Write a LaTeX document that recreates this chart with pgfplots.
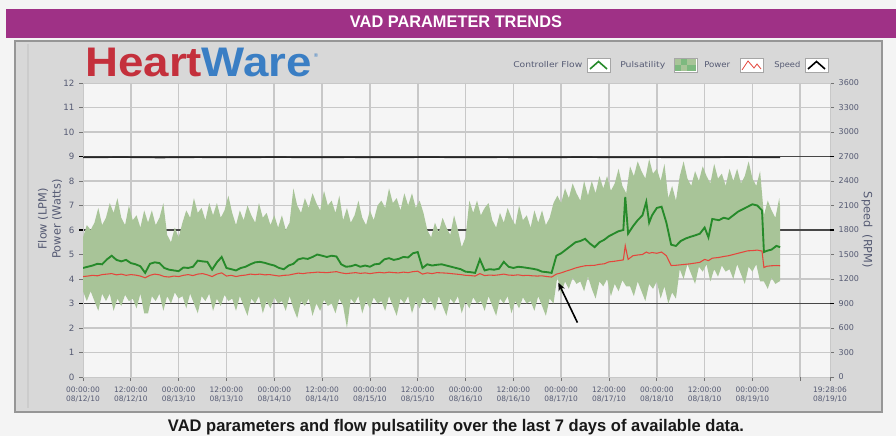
\documentclass[border=0pt]{standalone}
\usepackage{fontspec}
\setmainfont{DejaVu Sans}
\newfontfamily\libsans{Liberation Sans}
\usepackage{graphicx}
\usepackage{pgfplots}
\pgfplotsset{compat=1.18}
\usetikzlibrary{arrows.meta}
\usepackage{pgfplotstable}

\definecolor{purplebar}{RGB}{159,49,134}
\definecolor{outerbg}{RGB}{244,244,244}
\definecolor{panel}{RGB}{216,216,216}
\definecolor{panelrim}{RGB}{150,150,150}
\definecolor{plotbg}{RGB}{245,245,245}
\definecolor{gridc}{RGB}{200,200,200}
\definecolor{ticktext}{RGB}{85,90,115}
\definecolor{band}{RGB}{168,196,152}
\definecolor{flowgreen}{RGB}{38,138,42}
\definecolor{powerred}{RGB}{228,70,60}
\definecolor{heartred}{RGB}{196,48,60}
\definecolor{wareblue}{RGB}{58,126,196}

% controller flow and power (LPM / Watts)
\pgfplotstableread{
t flow power
0.00 4.45 4.10
0.05 4.50 4.12
0.10 4.55 4.15
0.15 4.62 4.13
0.20 4.60 4.18
0.25 4.80 4.20
0.30 4.95 4.22
0.35 4.78 4.17
0.40 4.72 4.20
0.45 4.78 4.15
0.50 4.65 4.18
0.55 4.60 4.16
0.60 4.52 4.12
0.65 4.25 4.05
0.70 4.62 4.15
0.75 4.68 4.20
0.80 4.65 4.17
0.85 4.45 4.10
0.90 4.38 4.08
0.95 4.35 4.12
1.00 4.32 4.10
1.05 4.47 4.15
1.10 4.45 4.18
1.15 4.50 4.14
1.20 4.75 4.20
1.25 4.72 4.22
1.30 4.70 4.17
1.35 4.38 4.10
1.40 4.68 4.20
1.45 4.90 4.25
1.50 4.45 4.12
1.55 4.40 4.15
1.60 4.35 4.10
1.65 4.45 4.14
1.70 4.50 4.16
1.75 4.60 4.20
1.80 4.68 4.18
1.85 4.70 4.20
1.90 4.66 4.17
1.95 4.60 4.18
2.00 4.55 4.15
2.05 4.45 4.12
2.10 4.40 4.15
2.15 4.55 4.16
2.20 4.62 4.20
2.25 4.80 4.24
2.30 4.85 4.22
2.35 4.82 4.25
2.40 4.90 4.26
2.45 5.00 4.28
2.50 4.95 4.27
2.55 4.90 4.26
2.60 4.95 4.28
2.65 4.92 4.30
2.70 4.60 4.25
2.75 4.50 4.22
2.80 4.52 4.24
2.85 4.58 4.26
2.90 4.50 4.23
2.95 4.55 4.25
3.00 4.50 4.22
3.05 4.60 4.25
3.10 4.62 4.27
3.15 4.80 4.25
3.20 4.85 4.28
3.25 4.78 4.26
3.30 4.82 4.25
3.35 4.90 4.28
3.40 4.88 4.26
3.45 5.05 4.30
3.50 5.10 4.32
3.55 4.45 4.20
3.60 4.60 4.25
3.65 4.55 4.22
3.70 4.58 4.26
3.75 4.60 4.25
3.80 4.55 4.24
3.85 4.50 4.22
3.90 4.45 4.20
3.95 4.40 4.18
4.00 4.30 4.15
4.05 4.28 4.14
4.10 4.25 4.12
4.15 4.80 4.22
4.20 4.35 4.14
4.25 4.40 4.16
4.30 4.38 4.15
4.35 4.42 4.17
4.40 4.70 4.20
4.45 4.50 4.16
4.50 4.45 4.15
4.55 4.50 4.17
4.60 4.48 4.14
4.65 4.45 4.15
4.70 4.42 4.13
4.75 4.38 4.12
4.80 4.30 4.13
4.85 4.28 4.10
4.90 4.25 4.08
4.95 4.95 4.20
5.00 5.05 4.25
5.05 5.20 4.32
5.10 5.35 4.38
5.15 5.50 4.45
5.20 5.55 4.50
5.25 5.64 4.54
5.30 5.45 4.55
5.35 5.30 4.56
5.40 5.50 4.60
5.45 5.60 4.62
5.50 5.75 4.70
5.55 5.85 4.72
5.60 5.95 4.75
5.65 6.00 4.78
5.67 7.35 5.36
5.70 5.85 4.80
5.75 6.15 4.95
5.80 6.40 4.98
5.85 6.60 5.00
5.89 7.15 5.10
5.92 6.30 5.05
5.95 6.60 5.08
6.00 6.90 5.05
6.05 6.95 5.10
6.10 6.30 4.95
6.15 5.40 4.55
6.20 5.35 4.56
6.25 5.55 4.58
6.30 5.65 4.60
6.35 5.72 4.62
6.40 5.78 4.65
6.45 5.85 4.68
6.50 6.10 4.80
6.54 5.70 4.75
6.58 6.45 4.85
6.65 6.40 4.88
6.70 6.50 4.92
6.75 6.45 4.95
6.80 6.60 5.00
6.85 6.75 5.05
6.90 6.85 5.10
6.95 6.95 5.15
7.00 7.05 5.16
7.05 7.00 5.18
7.10 6.80 5.14
7.12 5.10 4.47
7.15 5.15 4.52
7.20 5.20 4.54
7.25 5.35 4.55
7.29 5.30 4.54
}\flowdata

% pulsatility envelope (max / min flow)
\pgfplotstableread{
t up lo
0.00 5.7 3.5
0.04 6.2 3.1
0.08 6.0 3.5
0.12 6.3 3.1
0.16 6.9 2.7
0.20 6.2 3.4
0.24 6.5 3.1
0.28 7.1 3.4
0.32 6.7 2.7
0.36 7.3 3.2
0.40 6.5 2.9
0.44 6.2 3.35
0.48 7.0 3.1
0.52 6.4 3.2
0.56 6.6 2.8
0.60 6.1 3.4
0.64 6.8 2.6
0.68 6.3 2.6
0.72 6.8 3.3
0.76 6.2 3.1
0.80 6.5 3.4
0.84 7.1 2.7
0.88 5.8 3.3
0.92 5.5 3.0
0.96 6.1 3.45
1.00 5.7 3.2
1.04 6.3 3.3
1.08 6.8 2.8
1.12 6.5 3.4
1.16 7.3 3.0
1.20 6.7 2.6
1.24 6.9 3.3
1.28 6.4 3.1
1.32 7.1 3.4
1.36 6.6 2.7
1.40 7.1 3.2
1.44 6.5 2.9
1.48 6.8 3.35
1.52 7.4 3.1
1.56 6.7 3.2
1.60 6.2 2.7
1.64 6.8 3.3
1.68 6.4 2.9
1.72 7.0 2.5
1.76 6.6 3.2
1.80 6.3 3.0
1.84 7.1 3.3
1.88 6.5 2.6
1.92 6.7 3.1
1.96 6.2 2.8
2.00 6.6 3.25
2.04 6.1 3.0
2.08 6.6 3.1
2.12 6.0 2.7
2.16 6.3 3.3
2.20 7.7 2.8
2.24 7.0 2.4
2.28 6.7 3.1
2.32 7.3 2.9
2.36 6.9 3.2
2.40 7.5 2.5
2.44 7.1 3.0
2.48 6.8 2.7
2.52 7.6 3.15
2.56 7.0 2.9
2.60 7.2 3.0
2.64 6.7 2.6
2.68 7.4 3.2
2.72 6.4 2.9
2.76 6.9 2.0
2.80 6.3 3.2
2.84 6.6 3.0
2.88 7.2 3.3
2.92 6.5 2.6
2.96 6.2 3.1
3.00 6.8 2.8
3.04 6.4 3.25
3.08 7.0 3.0
3.12 7.2 3.1
3.16 6.9 2.7
3.20 7.7 3.3
3.24 7.1 2.9
3.28 7.3 2.5
3.32 6.8 3.2
3.36 7.5 3.0
3.40 7.0 3.3
3.44 7.5 2.6
3.48 6.9 3.1
3.52 7.2 2.8
3.56 6.7 3.25
3.60 6.0 3.0
3.64 5.7 3.1
3.68 6.3 2.7
3.72 5.9 3.3
3.76 6.5 2.9
3.80 6.1 2.5
3.84 5.8 3.2
3.88 6.6 3.0
3.92 6.0 3.3
3.96 5.3 2.6
4.00 5.7 3.1
4.04 7.2 2.8
4.08 6.7 3.25
4.12 7.2 3.0
4.16 6.6 3.1
4.20 6.9 2.7
4.24 7.1 3.3
4.28 6.4 2.9
4.32 6.1 2.5
4.36 6.7 3.2
4.40 6.3 3.0
4.44 6.9 3.3
4.48 6.5 2.6
4.52 6.2 3.1
4.56 7.0 2.8
4.60 6.4 3.25
4.64 6.6 3.0
4.68 6.1 3.1
4.72 6.8 2.7
4.76 6.3 3.3
4.80 6.8 2.9
4.84 6.2 2.5
4.88 6.5 3.2
4.92 7.1 3.0
4.96 7.4 4.1
5.00 7.1 3.4
5.04 7.7 3.9
5.08 7.3 3.6
5.12 7.9 4.05
5.16 7.5 3.8
5.20 7.2 3.9
5.24 8.0 3.5
5.28 7.4 4.1
5.32 8.0 3.6
5.36 7.5 3.2
5.40 8.2 3.9
5.44 7.7 3.7
5.48 8.2 4.0
5.52 7.6 3.3
5.56 7.9 3.8
5.60 8.5 3.5
5.64 7.8 3.95
5.68 7.5 3.7
5.72 8.6 3.7
5.76 8.2 3.3
5.80 8.8 3.9
5.84 8.4 3.5
5.88 8.1 3.1
5.92 8.9 3.8
5.96 8.3 3.6
6.00 8.5 3.9
6.04 8.0 3.2
6.08 8.7 3.7
6.12 7.3 3.0
6.16 7.8 3.45
6.20 7.2 3.2
6.24 8.2 4.4
6.28 8.8 4.0
6.32 8.1 4.6
6.36 7.8 4.2
6.40 8.4 3.8
6.44 8.0 4.5
6.48 8.6 4.3
6.52 8.2 4.6
6.56 7.9 3.9
6.60 8.7 4.4
6.64 8.1 4.1
6.68 8.3 4.55
6.72 7.8 4.3
6.76 8.5 4.4
6.80 8.0 4.0
6.84 8.5 4.6
6.88 7.9 4.2
6.92 8.2 3.8
6.96 8.8 4.5
7.00 8.1 4.3
7.04 7.8 4.6
7.08 8.4 3.9
7.12 6.6 3.9
7.16 7.2 3.6
7.20 6.8 4.05
7.24 6.5 3.8
7.28 7.3 3.9
7.29 6.9 3.9
}\banddata

\begin{document}
\begin{tikzpicture}
% ---------- background, plot area and grid (pixel coordinates, origin top-left) ----------
\begin{scope}[x=0.75pt,y=-0.75pt,yshift=327pt]
  \path[use as bounding box] (0,0) rectangle (896,436);
  \fill[outerbg] (0,0) rectangle (896,436);
  \fill[purplebar] (6,9) rectangle (896,38);
  \fill[panel] (15,41) rectangle (882,412);
  \draw[panelrim, line width=1.2pt] (15,41) rectangle (882,412);
  \draw[white!80!black, line width=0.8pt] (28,44) -- (28,408);
  % plot area: x 83..830, y 83..377 ; 1 day = 95.634 px, 1 unit = 24.5 px
  \fill[plotbg] (83,83) rectangle (830,377);
  \foreach \k in {1,...,15}
    \draw[gridc, line width=1.2pt] ({83+47.817*\k},83) -- ({83+47.817*\k},377);
  \foreach \v in {1,2,4,5,7,8,10,11}
    \draw[gridc, line width=1.2pt] (83,{377-24.5*\v}) -- (830,{377-24.5*\v});
  \foreach \v in {3,6,9}
    \draw[black!72, line width=0.8pt] (83,{377-24.5*\v}) -- (830,{377-24.5*\v});
\end{scope}

% ---------- left axis: flow / power / pulsatility ----------
\begin{axis}[
  at={(62.25pt,44.25pt)}, anchor=south west,
  scale only axis, width=560.25pt, height=220.5pt,
  xmin=0, xmax=7.811, ymin=0, ymax=12,
  axis line style={draw=gridc},
  xtick={0,0.5,1,1.5,2,2.5,3,3.5,4,4.5,5,5.5,6,6.5,7,7.811},
  xticklabels={
    {00:00:00\\08/12/10},{12:00:00\\08/12/10},
    {00:00:00\\08/13/10},{12:00:00\\08/13/10},
    {00:00:00\\08/14/10},{12:00:00\\08/14/10},
    {00:00:00\\08/15/10},{12:00:00\\08/15/10},
    {00:00:00\\08/16/10},{12:00:00\\08/16/10},
    {00:00:00\\08/17/10},{12:00:00\\08/17/10},
    {00:00:00\\08/18/10},{12:00:00\\08/18/10},
    {00:00:00\\08/19/10},{19:28:06\\08/19/10}},
  extra x ticks={7.5}, extra x tick labels={},
  ytick={0,1,...,12},
  extra y ticks={3,6,9}, extra y tick labels={},
  extra y tick style={major tick style={draw=black, line width=1pt}},
  xtick pos=lower, ytick pos=left,
  tick align=outside, major tick length=3pt,
  tick style={draw=black!55, line width=0.6pt},
  xticklabel style={font=\fontsize{5.6}{6.6}\selectfont, text=ticktext, align=center, yshift=-1pt},
  yticklabel style={font=\fontsize{6.5}{7}\selectfont, text=ticktext},
  /pgf/number format/assume math mode=true,
]
% pulsatility band
\addplot[draw=none, stack plots=y] table[x=t, y=lo] {\banddata};
\addplot[fill=band, draw=none, stack plots=y] table[x=t, y expr=\thisrow{up}-\thisrow{lo}] {\banddata} \closedcycle;
% flow and power
\addplot[flowgreen, line width=1.4pt] table[x=t, y=flow] {\flowdata};
\addplot[powerred, line width=0.8pt] table[x=t, y=power] {\flowdata};
\draw[-{Stealth[length=6pt,width=5pt]}, line width=1.2pt, black]
   (axis cs:5.17,2.22) -- (axis cs:4.97,3.85);
\end{axis}

% ---------- right axis: speed ----------
\begin{axis}[
  at={(62.25pt,44.25pt)}, anchor=south west,
  scale only axis, width=560.25pt, height=220.5pt,
  xmin=0, xmax=7.811, ymin=0, ymax=3600,
  axis y line*=right, hide x axis,
  axis line style={draw=gridc},
  ytick={0,300,...,3600},
  scaled y ticks=false,
  /pgf/number format/1000 sep={},
  /pgf/number format/assume math mode=true,
  tick align=outside, major tick length=3pt,
  tick style={draw=black!55, line width=0.6pt},
  extra y ticks={900,1800,2700}, extra y tick labels={},
  extra y tick style={major tick style={draw=black, line width=1pt}},
  yticklabel style={font=\fontsize{6}{7}\selectfont, text=ticktext},
]
\addplot[black!85, line width=1.1pt] coordinates {
 (0,2688) (0.4,2692) (0.8,2687) (1.2,2691) (1.6,2688) (2.0,2692)
 (2.4,2689) (2.8,2691) (3.2,2688) (3.6,2692) (4.0,2689) (4.4,2691)
 (4.8,2688) (5.2,2692) (5.6,2689) (6.0,2691) (6.4,2688) (6.8,2692)
 (7.29,2689)};
\end{axis}

% ---------- decorations (pixel coordinates) ----------
\begin{scope}[x=0.75pt,y=-0.75pt,yshift=327pt]
  % title
  \node[anchor=base, inner sep=0, text=white,
        font=\libsans\bfseries\fontsize{12.6}{13}\selectfont] at (456,28)
        {\resizebox{159pt}{\height}{VAD PARAMETER TRENDS}};
  % logo
  \node[anchor=base west, inner sep=0,
        font=\libsans\bfseries\fontsize{31}{31}\selectfont] at (85,77)
        {\resizebox{170pt}{\height}{\textcolor{heartred}{Heart}\textcolor{wareblue}{Ware}}};
  \node[inner sep=0, text=wareblue, font=\fontsize{4}{4}\selectfont] at (316,56) {\textregistered};
  % legend
  \node[anchor=west, inner sep=0, text=ticktext, font=\fontsize{6}{6}\selectfont] at (513,65)
        {\resizebox{51.75pt}{\height}{Controller Flow}};
  \draw[fill=white, draw=black!35] (587,58) rectangle (610,72);
  \draw[flowgreen, line width=1.2pt] (590,69) -- (598.5,61.5) -- (607,69);
  \node[anchor=west, inner sep=0, text=ticktext, font=\fontsize{6}{6}\selectfont] at (620,65)
        {\resizebox{33.75pt}{\height}{Pulsatility}};
  \draw[fill=white, draw=black!35] (674,58) rectangle (697,72);
  \fill[band] (675,59) rectangle (681,65);
  \fill[flowgreen!60] (681,59) rectangle (687,65);
  \fill[band] (687,59) rectangle (696,65);
  \fill[flowgreen!60] (675,65) rectangle (681,71);
  \fill[band] (681,65) rectangle (687,71);
  \fill[flowgreen!60] (687,65) rectangle (696,71);
  \node[anchor=west, inner sep=0, text=ticktext, font=\fontsize{6}{6}\selectfont] at (704,65)
        {\resizebox{19.5pt}{\height}{Power}};
  \draw[fill=white, draw=black!35] (740,58) rectangle (763,72);
  \draw[powerred, line width=0.6pt] (742,70) -- (748,61) -- (754,68) -- (757,64) -- (761,69);
  \node[anchor=west, inner sep=0, text=ticktext, font=\fontsize{6}{6}\selectfont] at (774,65)
        {\resizebox{19.5pt}{\height}{Speed}};
  \draw[fill=white, draw=black!35] (805,58) rectangle (828,72);
  \draw[black, line width=1.2pt] (808,69) -- (816.5,61.5) -- (825,69);
  % axis titles
  \node[rotate=90, align=center, text=ticktext, font=\fontsize{8.5}{10.5}\selectfont] at (50,219)
        {Flow (LPM)\\Power (Watts)};
  \node[rotate=-90, text=ticktext, font=\fontsize{8.5}{10.5}\selectfont] at (867,230)
        {Speed\ \ (RPM)};
  % caption
  \node[anchor=base, inner sep=0, text=black!90,
        font=\libsans\bfseries\fontsize{12.6}{13}\selectfont] at (456,431)
        {\resizebox{432pt}{\height}{VAD parameters and flow pulsatility over the last 7 days of available data.}};
\end{scope}
\end{tikzpicture}
\end{document}
